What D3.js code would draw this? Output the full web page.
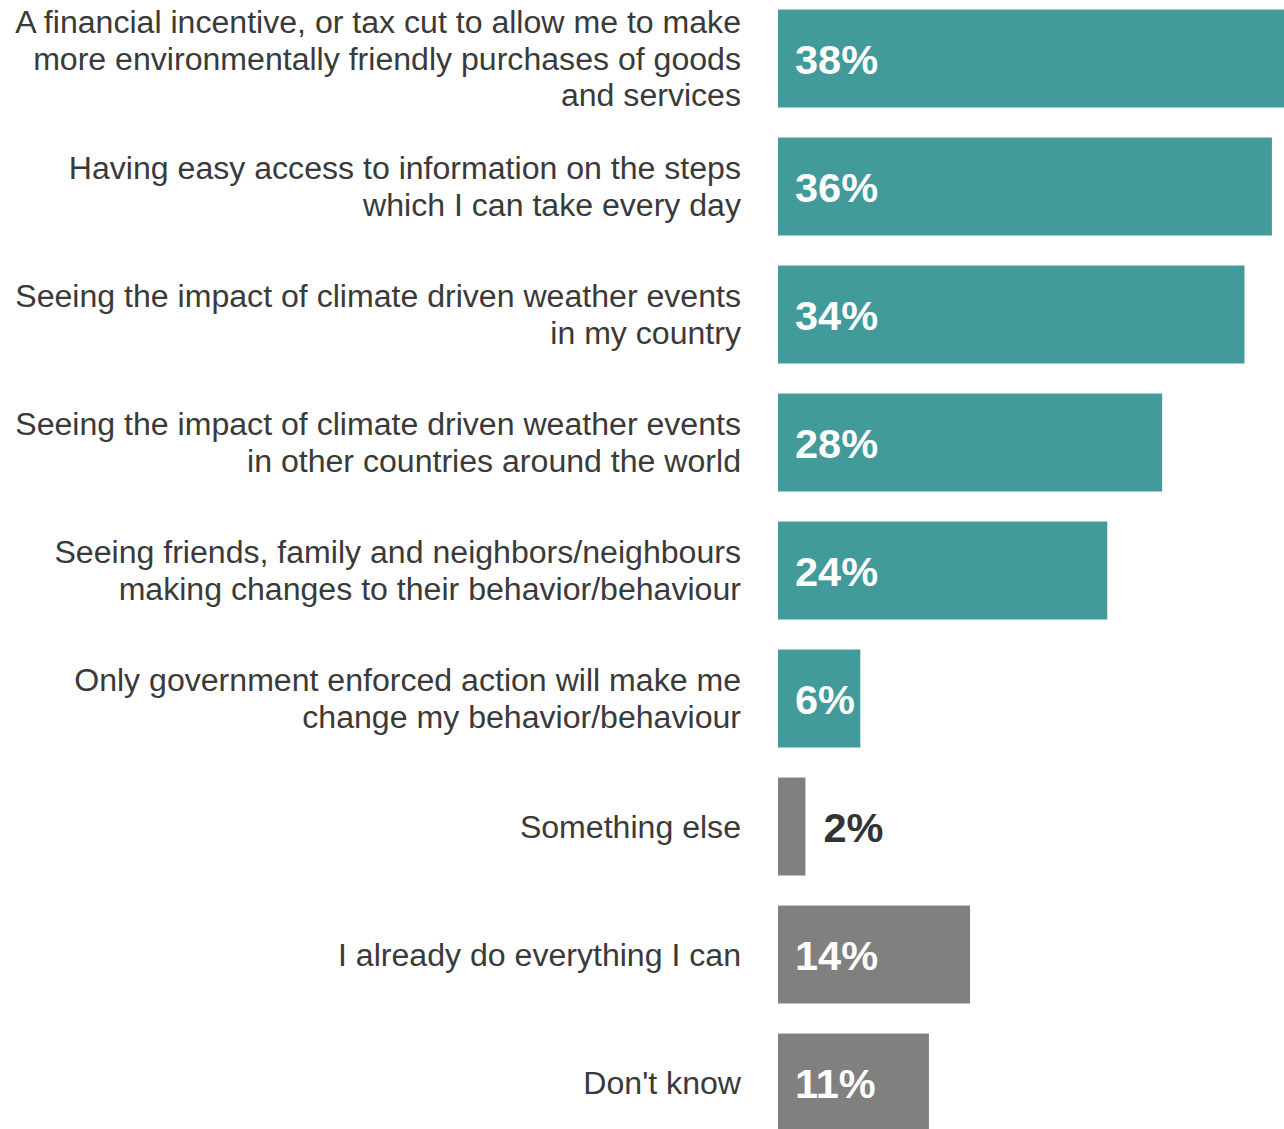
<!DOCTYPE html>
<html>
<head>
<meta charset="utf-8">
<script src="https://cdn.jsdelivr.net/npm/d3@7"></script>
<style>
  html, body { margin: 0; padding: 0; background: #ffffff; }
  svg { display: block; }
</style>
</head>
<body>
<svg id="chart" width="1284" height="1129"></svg>
<script>
// ---- data ----
const categories = [
  ["A financial incentive, or tax cut to allow me to make", "more environmentally friendly purchases of goods", "and services"],
  ["Having easy access to information on the steps", "which I can take every day"],
  ["Seeing the impact of climate driven weather events", "in my country"],
  ["Seeing the impact of climate driven weather events", "in other countries around the world"],
  ["Seeing friends, family and neighbors/neighbours", "making changes to their behavior/behaviour"],
  ["Only government enforced action will make me", "change my behavior/behaviour"],
  ["Something else"],
  ["I already do everything I can"],
  ["Don't know"]
];
const values = [38, 36, 34, 28, 24, 6, 2, 14, 11];
const groups = ["action", "action", "action", "action", "action", "action", "other", "other", "other"];

// ---- chart ----
const svg = d3.select("#chart");
const barLeft = 778;
const labelRight = 741;

const x = d3.scaleLinear().domain([0, 38]).range([barLeft, barLeft + 38 * 13.72]);
const idx = d3.range(values.length);
const y = d3.scaleBand().domain(idx).range([-5.5, -5.5 + 9 * 128])
  .paddingInner(0.234375).paddingOuter(0.1171875);
const color = d3.scaleOrdinal().domain(["action", "other"]).range(["#429a9a", "#808080"]);

const g = svg.append("g");

g.selectAll("rect.bar").data(idx).join("rect")
  .attr("class", "bar")
  .attr("x", x(0))
  .attr("y", i => y(i))
  .attr("width", i => x(values[i]) - x(0))
  .attr("height", y.bandwidth())
  .attr("fill", i => color(groups[i]));

// value labels
g.selectAll("text.val").data(idx).join("text")
  .attr("class", "val")
  .attr("x", i => values[i] < 4 ? x(values[i]) + 18 : x(0) + 17)
  .attr("y", i => y(i) + y.bandwidth() / 2)
  .attr("dy", "0.37em")
  .attr("font-family", "'Liberation Sans', Arial, sans-serif")
  .attr("font-weight", "bold")
  .attr("font-size", 41.5)
  .attr("fill", i => values[i] < 4 ? "#333333" : "#ffffff")
  .text(i => values[i] + "%");

// category labels
const lineH = 36.5;
const labels = g.selectAll("text.cat").data(idx).join("text")
  .attr("class", "cat")
  .attr("text-anchor", "end")
  .attr("font-family", "'Liberation Sans', Arial, sans-serif")
  .attr("font-size", 32.1)
  .attr("fill", "#3a3a3a");
labels.each(function(i) {
  const lines = categories[i];
  const cy = y(i) + y.bandwidth() / 2;
  const start = cy - (lines.length - 1) * lineH / 2;
  d3.select(this).selectAll("tspan").data(lines).join("tspan")
    .attr("x", labelRight)
    .attr("y", (d, k) => start + k * lineH)
    .attr("dy", "0.35em")
    .text(d => d);
});
</script>
</body>
</html>
